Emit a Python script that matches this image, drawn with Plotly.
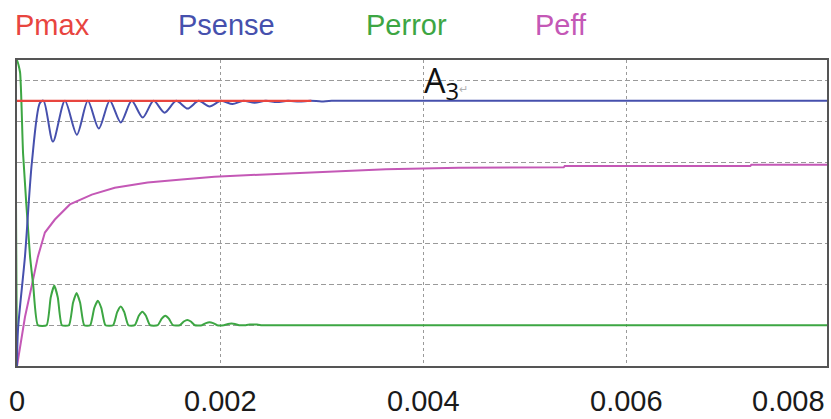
import plotly.graph_objects as go

# ---- data ----
series_names = ["Pmax", "Psense", "Perror", "Peff"]
series_colors = ["#e8453f", "#4650ad", "#3da643", "#c458b6"]

pmax_t = [0.0, 0.0029]
pmax_v = [6.5, 6.5]

psense_t = [0.0, 0.00001, 0.000079, 0.000147, 0.000226, 0.000262,
            0.000354, 0.000472, 0.00059, 0.000698, 0.000806, 0.000914,
            0.001022, 0.00113, 0.001238, 0.001346, 0.001454, 0.001568,
            0.001681, 0.00179, 0.001897, 0.00201, 0.002123, 0.00223,
            0.00234, 0.00245, 0.00256, 0.00267, 0.00278, 0.00289,
            0.003, 0.0031, 0.00798]
psense_v = [0.0, 0.9, 2.7, 5.0, 6.45, 6.5,
            5.5, 6.5, 5.67, 6.5, 5.82, 6.5,
            5.97, 6.5, 6.09, 6.5, 6.21, 6.5,
            6.31, 6.5, 6.36, 6.5, 6.42, 6.5,
            6.45, 6.5, 6.47, 6.5, 6.48, 6.5,
            6.485, 6.5, 6.5]

perror_t = [0.0, 0.0, 0.00003, 0.00006, 0.000128, 0.00016, 0.000206,
            0.000292, 0.000332, 0.000367, 0.000402, 0.000442,
            0.000512, 0.000552, 0.000587, 0.000622, 0.000662,
            0.000721, 0.000761, 0.000796, 0.000831, 0.000871,
            0.000947, 0.000987, 0.001022, 0.001057, 0.001097,
            0.00116, 0.0012, 0.001235, 0.00127, 0.00131,
            0.001386, 0.001426, 0.001461, 0.001496, 0.001536,
            0.001603, 0.001643, 0.001678, 0.001713, 0.001753,
            0.001822, 0.001862, 0.001897, 0.001932, 0.001972,
            0.002038, 0.002078, 0.002113, 0.002148, 0.002188,
            0.002254, 0.002294, 0.002329, 0.002364, 0.002404,
            0.00798]
perror_v = [0.0, 7.5, 7.2, 5.2, 2.7, 1.97, 1.0,
            1.0, 1.68, 1.97, 1.68, 1.0,
            1.0, 1.55, 1.79, 1.55, 1.0,
            1.0, 1.42, 1.60, 1.42, 1.0,
            1.0, 1.32, 1.46, 1.32, 1.0,
            1.0, 1.23, 1.33, 1.23, 1.0,
            1.0, 1.16, 1.23, 1.16, 1.0,
            1.0, 1.09, 1.13, 1.09, 1.0,
            1.0, 1.05, 1.07, 1.05, 1.0,
            1.0, 1.03, 1.04, 1.03, 1.0,
            1.0, 1.015, 1.02, 1.015, 1.0,
            1.0]

peff_t = [0.0, 0.0000786, 0.000157, 0.000206, 0.000275, 0.000373, 0.000521,
          0.000737, 0.000963, 0.001287, 0.001622, 0.001946, 0.002388,
          0.003106, 0.003636, 0.004354, 0.005386, 0.005396, 0.007224,
          0.007234, 0.00798]
peff_v = [0.0, 1.2, 2.1, 2.68, 3.27, 3.59, 3.96,
          4.2, 4.37, 4.5, 4.57, 4.64, 4.69,
          4.77, 4.82, 4.86, 4.87, 4.90, 4.90,
          4.93, 4.93]

x_tick_vals = [0.0, 0.002, 0.004, 0.006, 0.008]
x_tick_text = ["0", "0.002", "0.004", "0.006", "0.008"]
y_grid_vals = [1, 2, 3, 4, 5, 6, 7]
x_range = [0.0, 0.00798]
y_range = [0.0, 7.5]

label_text = "A<sub>3</sub><span style='font-size:11px;color:#b0b0b0'>↵</span>"
label_pos = (0.00399, 6.95)

legend_x_px = [53, 227, 407, 562]

# ---- figure ----
W, H = 831, 419
ML, MR, MT, MB = 17, 2, 60, 53
pw = W - ML - MR

fig = go.Figure()
fig.add_trace(go.Scatter(x=peff_t, y=peff_v, mode="lines",
                         line=dict(color=series_colors[3], width=2),
                         name=series_names[3], hoverinfo="skip"))
fig.add_trace(go.Scatter(x=perror_t, y=perror_v, mode="lines",
                         line=dict(color=series_colors[2], width=2,
                                   shape="spline", smoothing=0.5),
                         name=series_names[2], hoverinfo="skip"))
fig.add_trace(go.Scatter(x=psense_t, y=psense_v, mode="lines",
                         line=dict(color=series_colors[1], width=2,
                                   shape="spline", smoothing=0.8),
                         name=series_names[1], hoverinfo="skip"))
fig.add_trace(go.Scatter(x=pmax_t, y=pmax_v, mode="lines",
                         line=dict(color=series_colors[0], width=2.2),
                         name=series_names[0], hoverinfo="skip"))

annotations = []
# series names above the plot
for name, color, px in zip(series_names, series_colors, legend_x_px):
    annotations.append(dict(
        x=(px - ML) / pw, xref="paper", y=1, yref="paper",
        yshift=35, xanchor="center", yanchor="middle", showarrow=False,
        text=name, font=dict(family="Liberation Sans, Arial, sans-serif",
                             size=29, color=color)))
# x tick labels
for i, (v, t) in enumerate(zip(x_tick_vals, x_tick_text)):
    last = i == len(x_tick_vals) - 1
    annotations.append(dict(
        x=min(v, x_range[1]), xref="x", y=0, yref="y",
        yshift=-17, xanchor="right" if last else "center",
        yanchor="top", showarrow=False, text=t,
        font=dict(family="Liberation Sans, Arial, sans-serif", size=29,
                  color="#1a1a1a")))
# A3 label
annotations.append(dict(
    x=label_pos[0], y=label_pos[1], xref="x", yref="y",
    xanchor="left", yanchor="middle", showarrow=False, text=label_text,
    font=dict(family="Open Sans, Liberation Sans, sans-serif", size=34,
              color="#111111")))

fig.update_layout(
    width=W, height=H,
    margin=dict(l=ML, r=MR, t=MT, b=MB),
    paper_bgcolor="white", plot_bgcolor="white",
    showlegend=False,
    annotations=annotations,
    xaxis=dict(range=x_range, tickvals=x_tick_vals, showticklabels=False,
               ticks="", showgrid=True, gridcolor="#9a9a9a", gridwidth=1.3,
               griddash="3px,3px", zeroline=False,
               showline=True, linecolor="#555555", linewidth=2, mirror=True,
               fixedrange=True),
    yaxis=dict(range=y_range, tickvals=y_grid_vals, showticklabels=False,
               ticks="", showgrid=True, gridcolor="#9a9a9a", gridwidth=1.3,
               griddash="5px,3px", zeroline=False,
               showline=True, linecolor="#555555", linewidth=2, mirror=True,
               fixedrange=True),
)

fig.write_html("out.html", config={"displayModeBar": False})
